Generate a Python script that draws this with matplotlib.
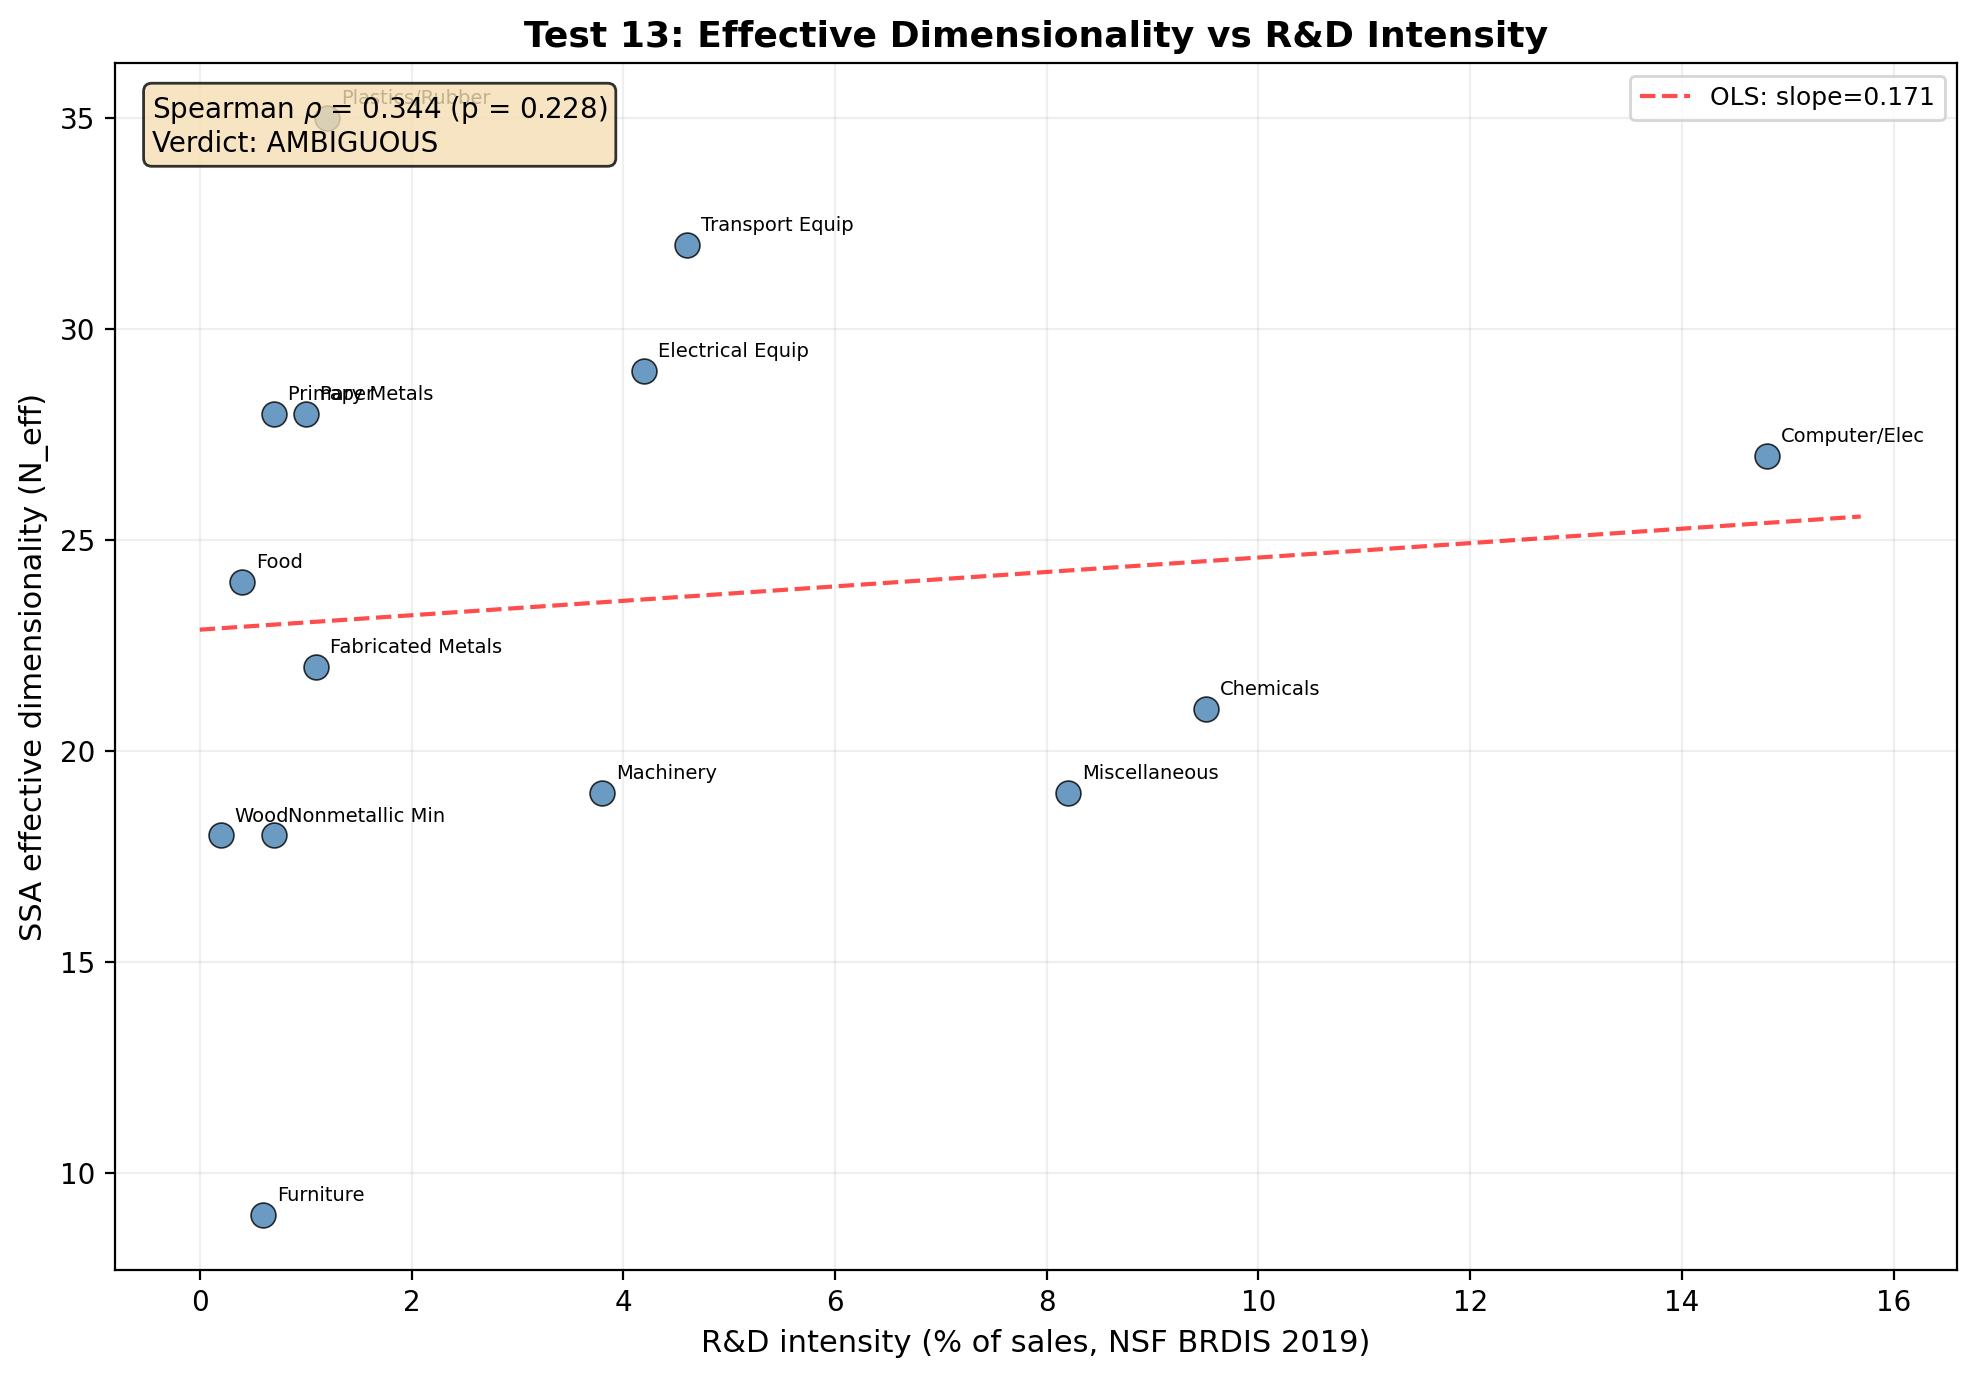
import numpy as np
import matplotlib
matplotlib.use('Agg')
import matplotlib.pyplot as plt

industries = ['Plastics/Rubber', 'Transport Equip', 'Electrical Equip', 'Primary Metals',
              'Paper', 'Computer/Elec', 'Food', 'Fabricated Metals', 'Chemicals',
              'Machinery', 'Miscellaneous', 'Wood', 'Nonmetallic Min', 'Furniture']
rd_intensity = [1.2, 4.6, 4.2, 0.7, 1.0, 14.8, 0.4, 1.1, 9.5, 3.8, 8.2, 0.2, 0.7, 0.6]
n_eff = [35, 32, 29, 28, 28, 27, 24, 22, 21, 19, 19, 18, 18, 9]

rho = 0.344
pval = 0.228
verdict = 'AMBIGUOUS'

x = np.array(rd_intensity)
y = np.array(n_eff)

fig, ax = plt.subplots(figsize=(9.885, 6.89), dpi=200)
fig.subplots_adjust(left=0.0582, right=0.990, bottom=0.0784, top=0.954)

ax.scatter(x, y, s=80, c='steelblue', edgecolors='black', linewidths=0.6, alpha=0.8, zorder=3)
for name, xi, yi in zip(industries, x, y):
    ax.annotate(name, (xi, yi), xytext=(5, 5), textcoords='offset points', fontsize=7)

# OLS fit
slope, intercept = np.polyfit(x, y, 1)
xl = np.linspace(0, x.max() * 1.06, 100)
ax.plot(xl, slope * xl + intercept, 'r--', alpha=0.7, linewidth=1.5,
        label='OLS: slope=%.3f' % slope)

ax.text(0.02, 0.975, 'Spearman $\\rho$ = %.3f (p = %.3f)\nVerdict: %s' % (rho, pval, verdict),
        transform=ax.transAxes, fontsize=10, va='top', zorder=5,
        bbox=dict(boxstyle='round', facecolor='wheat', alpha=0.8))

ax.set_xlim(-0.8, 16.6)
ax.set_xlabel('R&D intensity (% of sales, NSF BRDIS 2019)', fontsize=11)
ax.set_ylabel('SSA effective dimensionality (N_eff)', fontsize=11)
ax.set_title('Test 13: Effective Dimensionality vs R&D Intensity', fontsize=13, fontweight='bold')
ax.legend(fontsize=9)
ax.grid(True, alpha=0.2)

plt.savefig('out.png', dpi=200)
